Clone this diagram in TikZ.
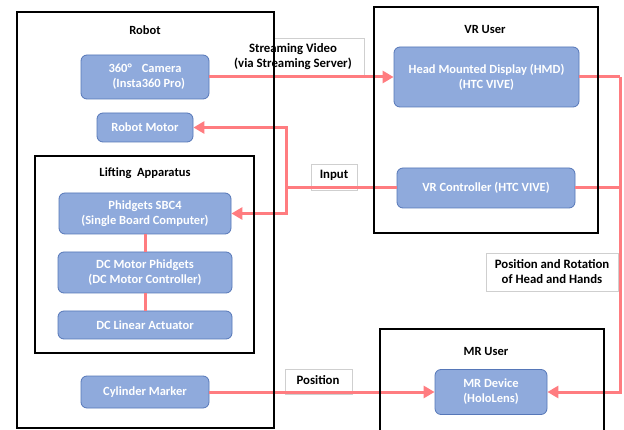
\documentclass[tikz,border=0pt]{standalone}
\usepackage{fontspec}
\setmainfont{Carlito}
\usetikzlibrary{arrows.meta}
\definecolor{nodefill}{HTML}{8FAADC}
\definecolor{nodeedge}{HTML}{5677B8}
\definecolor{pinkline}{HTML}{FF7C80}
\definecolor{lbledge}{HTML}{CFCFCF}
\tikzset{
  dev/.style={draw=nodeedge, line width=0.8pt, fill=nodefill, rounded corners=6pt,
    text=white, font=\bfseries\fontsize{12.5}{15}\selectfont, align=center, inner sep=0pt},
  ttl/.style={font=\bfseries\fontsize{12.5}{15}\selectfont, align=center, inner sep=0pt},
  lbl/.style={font=\bfseries\fontsize{12.8}{15}\selectfont, align=center, inner sep=0pt},
  lblbox/.style={draw=lbledge, fill=white, line width=0.8pt},
  grp/.style={draw=black, line width=1.6pt},
  conn/.style={draw=pinkline, line width=3pt},
  arr/.style={conn, -{Triangle[length=11pt,width=12pt]}}
}
\begin{document}
\begin{tikzpicture}[x=1pt,y=-1pt]
\useasboundingbox[fill=white] (0,0) rectangle (624,430);
% label boxes
\draw[lblbox] (273,38) rectangle (364,76);
\draw[lblbox] (311,164) rectangle (357,190);
\draw[lblbox] (285,369) rectangle (352,394);
\draw[lblbox] (486,253) rectangle (618,291);
\node[lbl] (lstream) at (293,56.5) {Streaming Video\\(via Streaming Server)};
\node[lbl] (linput) at (334,175) {Input};
\node[lbl] (lpos) at (318,380) {Position};
\node[lbl] (lposrot) at (552,272) {Position and Rotation\\of Head and Hands};
% nodes
\node[dev, minimum width=128pt, minimum height=44pt] (cam) at (145,77) {360°\hspace{0.8em}Camera\\\hspace*{0.6em}(Insta360 Pro)};
\node[dev, minimum width=96pt, minimum height=29pt] (motor) at (145,127.5) {Robot Motor};
\node[dev, minimum width=172pt, minimum height=41pt] (sbc) at (145,213.5) {Phidgets SBC4\\(Single Board Computer)};
\node[dev, minimum width=174pt, minimum height=41pt] (dcm) at (145,272.5) {DC Motor Phidgets\\(DC Motor Controller)};
\node[dev, minimum width=174pt, minimum height=28pt] (act) at (145,325) {DC Linear Actuator};
\node[dev, minimum width=128pt, minimum height=32pt] (cyl) at (145,392) {Cylinder Marker};
\node[dev, minimum width=185pt, minimum height=60pt] (hmd) at (486.5,77) {Head Mounted Display (HMD)\\(HTC VIVE)};
\node[dev, minimum width=178pt, minimum height=40pt] (ctrl) at (486,188) {VR Controller (HTC VIVE)};
\node[dev, minimum width=112pt, minimum height=45pt] (mr) at (491,392) {MR Device\\(HoloLens)};
% connectors
\draw[arr] (cam.east) -- (hmd.west);
\coordinate (jl) at (286,188);
\draw[conn] (ctrl.west) -- (jl);
\draw[arr] (jl) |- (motor.east);
\draw[arr] (jl) |- (sbc.east);
\coordinate (jr) at (620,77);
\draw[conn] (hmd.east) -- (jr);
\draw[conn] (ctrl.east) -- (ctrl.east -| jr);
\draw[arr] (jr) |- (mr.east);
\draw[arr] (cyl.east) -- (mr.west);
\draw[conn] (sbc.south) -- (dcm.north);
\draw[conn] (dcm.south) -- (act.north);
% group boxes
\draw[grp] (17,12) rectangle (274,428);
\draw[grp] (35,156) rectangle (254,353);
\draw[grp] (374,7) rectangle (598,233);
\draw[grp] (380,329) rectangle (604,445);
\node[ttl] (trobot) at (145,30) {Robot};
\node[ttl] (tlift) at (145,173) {Lifting\ \ Apparatus};
\node[ttl] (tvr) at (485,29) {VR User};
\node[ttl] (tmr) at (486,351) {MR User};
\end{tikzpicture}
\end{document}
